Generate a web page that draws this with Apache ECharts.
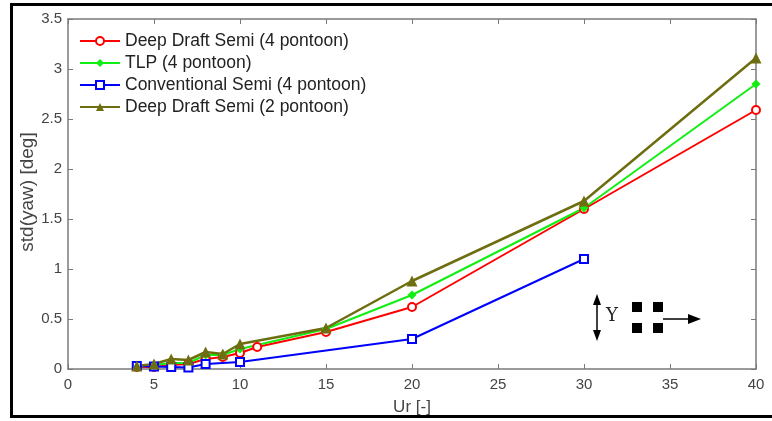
<!DOCTYPE html>
<html><head><meta charset="utf-8">
<script src="https://cdn.jsdelivr.net/npm/echarts@6/dist/echarts.min.js"></script>
<style>
html,body{margin:0;padding:0;background:#fff;}
#c{width:772px;height:421px;}
#frame{position:absolute;left:10px;top:3px;width:780px;height:415px;border:3px solid #000;box-sizing:border-box;pointer-events:none;}
</style></head>
<body>
<div id="c"></div>
<div id="frame"></div>
<script>
const xTicks = [0,5,10,15,20,25,30,35,40];
const yTicks = [0,0.5,1,1.5,2,2.5,3,3.5];
const xName = 'Ur [-]';
const yName = 'std(yaw) [deg]';
const seriesNames = ['Deep Draft Semi (4 pontoon)','TLP (4 pontoon)','Conventional Semi (4 pontoon)','Deep Draft Semi (2 pontoon)'];
const ddsX4 = [4,5,6,7,8,9,10,11,15,20,30,40];
const ddsY4 = [0.02,0.02,0.04,0.05,0.10,0.12,0.16,0.22,0.37,0.62,1.60,2.59];
const tlpX = [4,5,6,7,8,9,10,15,20,30,40];
const tlpY = [0.02,0.04,0.06,0.06,0.14,0.14,0.20,0.40,0.74,1.61,2.85];
const convX = [4,5,6,7,8,10,20,30];
const convY = [0.03,0.025,0.02,0.015,0.05,0.07,0.30,1.10];
const dds2X = [4,5,6,7,8,9,10,15,20,30,40];
const dds2Y = [0.03,0.05,0.10,0.09,0.17,0.15,0.25,0.41,0.88,1.68,3.11];

const chart = echarts.init(document.getElementById('c'));
const font = 'Liberation Sans, Arial, sans-serif';
const axisCol = '#7a7a7a';
function pairs(xs, ys){ return xs.map((x,i)=>[x, ys[i]]); }
const baseX = {type:'value',min:0,max:40,interval:5,splitLine:{show:false},
  axisLine:{show:true,onZero:false,lineStyle:{color:axisCol,width:1.5}},
  axisTick:{show:true,inside:true,length:5,lineStyle:{color:axisCol}}};
const baseY = {type:'value',min:0,max:3.5,interval:0.5,splitLine:{show:false},
  axisLine:{show:true,onZero:false,lineStyle:{color:axisCol,width:1.5}},
  axisTick:{show:true,inside:true,length:5,lineStyle:{color:axisCol}}};
const lab = {color:'#444',fontSize:15,fontFamily:font};
chart.setOption({
  animation:false,
  grid:{left:68,right:16,top:19,bottom:52},
  legend:{show:true,left:74,top:27,orient:'vertical',itemGap:4,itemWidth:40,itemHeight:10,
    textStyle:{fontSize:17.5,fontFamily:font,color:'#222'},data:seriesNames},
  xAxis:[
    Object.assign({},baseX,{position:'bottom',name:xName,nameLocation:'middle',nameGap:30,
      nameTextStyle:Object.assign({},lab,{fontSize:17}),axisLabel:Object.assign({margin:8,formatter:v=>xTicks.includes(v)?String(v):''},lab)}),
    Object.assign({},baseX,{position:'top',axisLabel:{show:false}})
  ],
  yAxis:[
    Object.assign({},baseY,{position:'left',
      axisLabel:Object.assign({margin:6,formatter:v=>yTicks.includes(v)?String(v):''},lab)}),
    Object.assign({},baseY,{position:'right',axisLabel:{show:false}})
  ],
  series:[
    {name:seriesNames[0],type:'line',data:pairs(ddsX4,ddsY4),symbol:'circle',symbolSize:8,showAllSymbol:true,
      lineStyle:{width:2,color:'#ff0000'},itemStyle:{color:'#fff',borderColor:'#ff0000',borderWidth:2}},
    {name:seriesNames[1],type:'line',data:pairs(tlpX,tlpY),symbol:'diamond',symbolSize:9,showAllSymbol:true,
      lineStyle:{width:2,color:'#11ee11'},itemStyle:{color:'#11ee11'}},
    {name:seriesNames[2],type:'line',data:pairs(convX,convY),symbol:'rect',symbolSize:8,showAllSymbol:true,
      lineStyle:{width:2,color:'#0000ff'},itemStyle:{color:'#fff',borderColor:'#0000ff',borderWidth:2}},
    {name:seriesNames[3],type:'line',data:pairs(dds2X,dds2Y),symbol:'triangle',symbolSize:11,showAllSymbol:true,
      lineStyle:{width:2.5,color:'#6e6e10'},itemStyle:{color:'#6e6e10'}}
  ],
  graphic:[
    {type:'text',x:28,y:192,rotation:Math.PI/2,style:{text:yName,font:'19px "Liberation Sans", Arial, sans-serif',fill:'#444',textAlign:'center',textVerticalAlign:'middle'}},
    {type:'line',shape:{x1:597,y1:300,x2:597,y2:336},style:{stroke:'#000',lineWidth:1.5}},
    {type:'polygon',shape:{points:[[597,294],[593,305],[601,305]]},style:{fill:'#000'}},
    {type:'polygon',shape:{points:[[597,341],[593,330],[601,330]]},style:{fill:'#000'}},
    {type:'text',x:606,y:307,style:{text:'Y',font:'18px "DejaVu Serif", "Liberation Serif", serif',fill:'#222'}},
    {type:'rect',shape:{x:632,y:302,width:10,height:10},style:{fill:'#000'}},
    {type:'rect',shape:{x:653,y:302,width:10,height:10},style:{fill:'#000'}},
    {type:'rect',shape:{x:632,y:323,width:10,height:10},style:{fill:'#000'}},
    {type:'rect',shape:{x:653,y:323,width:10,height:10},style:{fill:'#000'}},
    {type:'line',shape:{x1:663,y1:319,x2:690,y2:319},style:{stroke:'#000',lineWidth:1.5}},
    {type:'polygon',shape:{points:[[701,319],[688,314],[688,324]]},style:{fill:'#000'}}
  ]
});
</script>
</body></html>
